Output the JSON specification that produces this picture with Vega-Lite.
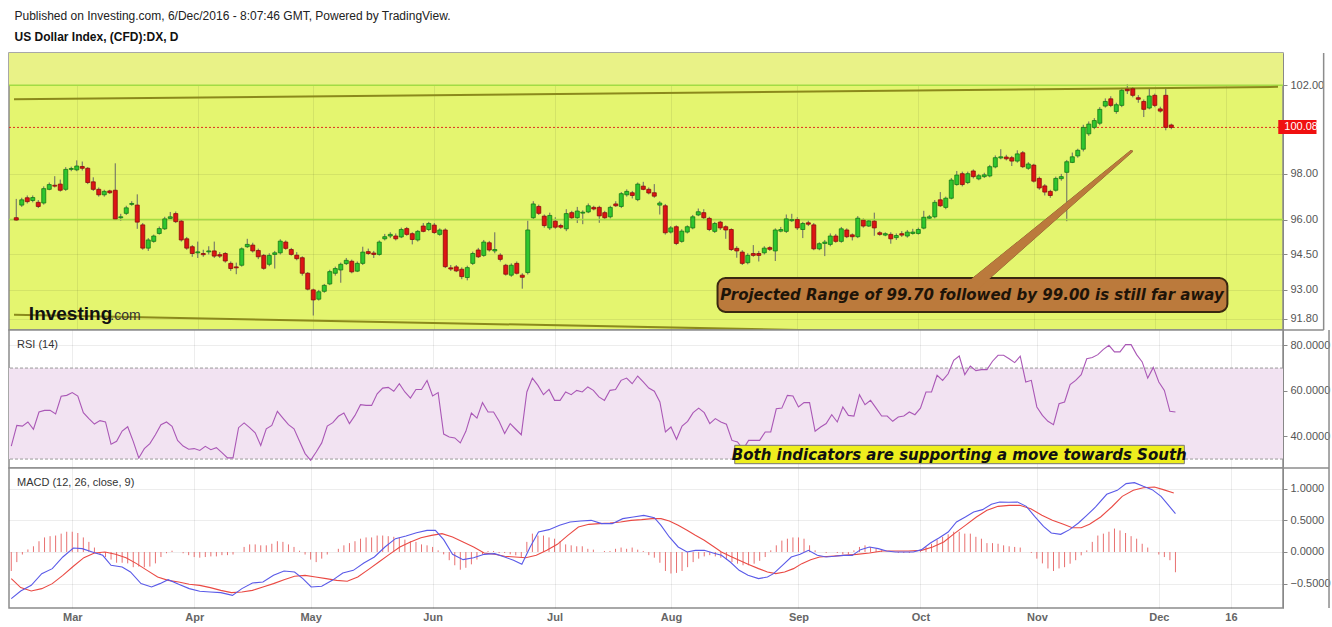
{
"$schema":"https://vega.github.io/schema/vega-lite/v6.json",
"padding":{"left":7,"top":9,"right":0,"bottom":5},
"background":"white",
"title":{"text":"Published on Investing.com, 6/Dec/2016 - 8:07:46 GMT, Powered by TradingView.","subtitle":"US Dollar Index, (CFD):DX, D","anchor":"start","dx":7,"font":"Liberation Sans","fontSize":12,"fontWeight":"normal","color":"#222","subtitleFont":"Liberation Sans","subtitleFontSize":12,"subtitleFontWeight":"bold","subtitleColor":"#111","subtitlePadding":9,"offset":8},
"spacing":0,
"bounds":"flush",
"config":{"font":"Liberation Sans","view":{"stroke":"#8c8c8c","strokeWidth":1.5},"axis":{"labelFont":"Liberation Sans","labelFontSize":11,"labelColor":"#555","tickColor":"#888","domainColor":"#888","tickSize":4,"labelPadding":3,"gridColor":"#000","gridOpacity":0.07,"title":null}},
"datasets":{
"candles":[
{"i":0,"o":96.08,"h":96.9,"l":95.95,"c":95.98},{"i":1,"o":96.63,"h":96.95,"l":96.55,"c":96.86},{"i":2,"o":96.95,"h":97.05,"l":96.7,"c":96.78},{"i":3,"o":96.83,"h":97.05,"l":96.75,"c":96.96},{"i":4,"o":96.75,"h":96.85,"l":96.5,"c":96.57},{"i":5,"o":96.72,"h":97.45,"l":96.65,"c":97.35},{"i":6,"o":97.32,"h":97.62,"l":97.28,"c":97.53},{"i":7,"o":97.5,"h":97.9,"l":97.4,"c":97.46},{"i":8,"o":97.55,"h":97.75,"l":97.22,"c":97.28},{"i":9,"o":97.32,"h":98.3,"l":97.25,"c":98.2},
{"i":10,"o":98.2,"h":98.32,"l":98.12,"c":98.24},{"i":11,"o":98.18,"h":98.6,"l":98.12,"c":98.35},{"i":12,"o":98.33,"h":98.55,"l":98.15,"c":98.25},{"i":13,"o":98.25,"h":98.3,"l":97.55,"c":97.62},{"i":14,"o":97.65,"h":97.85,"l":97.25,"c":97.32},{"i":15,"o":97.32,"h":97.4,"l":97.0,"c":97.08},{"i":16,"o":97.08,"h":97.3,"l":97.0,"c":97.23},{"i":17,"o":97.25,"h":97.3,"l":97.12,"c":97.17},{"i":18,"o":97.28,"h":98.47,"l":95.98,"c":96.03},{"i":19,"o":96.08,"h":96.25,"l":95.95,"c":96.12},
{"i":20,"o":96.27,"h":96.6,"l":96.2,"c":96.51},{"i":21,"o":96.66,"h":96.8,"l":96.6,"c":96.7},{"i":22,"o":96.63,"h":97.1,"l":95.6,"c":95.89},{"i":23,"o":95.77,"h":95.85,"l":94.7,"c":94.77},{"i":24,"o":94.77,"h":95.2,"l":94.65,"c":95.12},{"i":25,"o":95.06,"h":95.35,"l":95.0,"c":95.29},{"i":26,"o":95.4,"h":95.7,"l":95.35,"c":95.61},{"i":27,"o":95.6,"h":96.12,"l":95.55,"c":96.03},{"i":28,"o":96.05,"h":96.33,"l":96.0,"c":96.12},{"i":29,"o":96.26,"h":96.35,"l":95.85,"c":95.91},
{"i":30,"o":95.93,"h":96.0,"l":95.05,"c":95.12},{"i":31,"o":95.17,"h":95.25,"l":94.7,"c":94.77},{"i":32,"o":94.83,"h":94.9,"l":94.4,"c":94.54},{"i":33,"o":94.57,"h":95.05,"l":94.35,"c":94.61},{"i":34,"o":94.54,"h":94.7,"l":94.4,"c":94.49},{"i":35,"o":94.61,"h":94.85,"l":94.5,"c":94.65},{"i":36,"o":94.65,"h":95.05,"l":94.35,"c":94.43},{"i":37,"o":94.49,"h":94.6,"l":94.35,"c":94.43},{"i":38,"o":94.54,"h":94.6,"l":94.15,"c":94.22},{"i":39,"o":94.12,"h":94.2,"l":93.8,"c":93.9},
{"i":40,"o":93.97,"h":94.15,"l":93.66,"c":93.93},{"i":41,"o":94.04,"h":94.8,"l":93.98,"c":94.74},{"i":42,"o":94.83,"h":95.17,"l":94.78,"c":94.93},{"i":43,"o":94.9,"h":95.0,"l":94.58,"c":94.65},{"i":44,"o":94.67,"h":94.75,"l":94.3,"c":94.4},{"i":45,"o":94.46,"h":94.52,"l":93.85,"c":93.91},{"i":46,"o":94.08,"h":94.55,"l":94.0,"c":94.46},{"i":47,"o":94.5,"h":94.65,"l":93.9,"c":94.57},{"i":48,"o":94.57,"h":95.15,"l":94.5,"c":95.07},{"i":49,"o":95.03,"h":95.1,"l":94.7,"c":94.76},
{"i":50,"o":94.71,"h":94.78,"l":94.45,"c":94.5},{"i":51,"o":94.47,"h":94.6,"l":94.25,"c":94.32},{"i":52,"o":94.36,"h":94.42,"l":93.6,"c":93.7},{"i":53,"o":93.7,"h":93.75,"l":92.98,"c":93.03},{"i":54,"o":93.0,"h":93.05,"l":91.93,"c":92.58},{"i":55,"o":92.61,"h":93.0,"l":92.55,"c":92.92},{"i":56,"o":92.94,"h":93.25,"l":92.88,"c":93.19},{"i":57,"o":93.25,"h":93.85,"l":93.2,"c":93.77},{"i":58,"o":93.7,"h":93.98,"l":93.6,"c":93.9},{"i":59,"o":93.84,"h":94.15,"l":93.3,"c":94.08},
{"i":60,"o":94.11,"h":94.35,"l":94.05,"c":94.25},{"i":61,"o":94.21,"h":94.28,"l":93.7,"c":93.76},{"i":62,"o":93.79,"h":94.2,"l":93.75,"c":94.12},{"i":63,"o":94.12,"h":94.83,"l":94.05,"c":94.6},{"i":64,"o":94.62,"h":94.75,"l":94.48,"c":94.54},{"i":65,"o":94.56,"h":94.65,"l":94.35,"c":94.5},{"i":66,"o":94.5,"h":95.1,"l":94.45,"c":95.03},{"i":67,"o":95.17,"h":95.38,"l":95.1,"c":95.26},{"i":68,"o":95.29,"h":95.45,"l":95.2,"c":95.36},{"i":69,"o":95.29,"h":95.4,"l":95.1,"c":95.17},
{"i":70,"o":95.25,"h":95.65,"l":95.2,"c":95.57},{"i":71,"o":95.61,"h":95.68,"l":95.3,"c":95.36},{"i":72,"o":95.39,"h":95.45,"l":94.93,"c":95.14},{"i":73,"o":95.12,"h":95.55,"l":95.05,"c":95.49},{"i":74,"o":95.72,"h":95.85,"l":95.45,"c":95.49},{"i":75,"o":95.57,"h":95.9,"l":95.5,"c":95.83},{"i":76,"o":95.76,"h":95.85,"l":95.38,"c":95.44},{"i":77,"o":95.36,"h":95.62,"l":95.3,"c":95.55},{"i":78,"o":95.55,"h":95.62,"l":93.92,"c":93.98},{"i":79,"o":93.93,"h":94.05,"l":93.8,"c":93.88},
{"i":80,"o":93.97,"h":94.05,"l":93.75,"c":93.8},{"i":81,"o":93.87,"h":93.95,"l":93.45,"c":93.56},{"i":82,"o":93.52,"h":94.02,"l":93.4,"c":93.94},{"i":83,"o":94.12,"h":94.62,"l":94.05,"c":94.54},{"i":84,"o":94.69,"h":94.78,"l":94.35,"c":94.4},{"i":85,"o":94.46,"h":95.12,"l":94.4,"c":95.03},{"i":86,"o":95.0,"h":95.08,"l":94.62,"c":94.69},{"i":87,"o":94.65,"h":95.45,"l":94.55,"c":94.71},{"i":88,"o":94.47,"h":94.55,"l":94.2,"c":94.29},{"i":89,"o":94.04,"h":94.1,"l":93.6,"c":93.66},
{"i":90,"o":93.62,"h":94.12,"l":93.55,"c":94.04},{"i":91,"o":94.12,"h":94.2,"l":93.65,"c":93.7},{"i":92,"o":93.62,"h":93.7,"l":93.05,"c":93.53},{"i":93,"o":93.73,"h":95.95,"l":93.65,"c":95.55},{"i":94,"o":96.08,"h":96.8,"l":96.0,"c":96.68},{"i":95,"o":96.57,"h":96.65,"l":96.2,"c":96.27},{"i":96,"o":96.15,"h":96.22,"l":95.65,"c":95.74},{"i":97,"o":95.64,"h":96.3,"l":95.55,"c":96.18},{"i":98,"o":95.93,"h":96.1,"l":95.6,"c":95.67},{"i":99,"o":95.74,"h":95.82,"l":95.6,"c":95.67},
{"i":100,"o":95.6,"h":96.45,"l":95.5,"c":96.26},{"i":101,"o":96.3,"h":96.38,"l":96.02,"c":96.08},{"i":102,"o":96.08,"h":96.55,"l":95.85,"c":96.37},{"i":103,"o":96.28,"h":96.4,"l":95.8,"c":96.32},{"i":104,"o":96.33,"h":96.7,"l":96.28,"c":96.6},{"i":105,"o":96.53,"h":96.6,"l":96.4,"c":96.46},{"i":106,"o":96.53,"h":96.6,"l":95.86,"c":96.16},{"i":107,"o":96.3,"h":96.38,"l":96.0,"c":96.08},{"i":108,"o":96.12,"h":96.6,"l":96.05,"c":96.53},{"i":109,"o":96.68,"h":96.8,"l":96.55,"c":96.6},
{"i":110,"o":96.57,"h":97.2,"l":96.5,"c":97.13},{"i":111,"o":97.08,"h":97.32,"l":97.0,"c":97.23},{"i":112,"o":97.17,"h":97.25,"l":96.92,"c":97.05},{"i":113,"o":96.87,"h":97.62,"l":96.8,"c":97.55},{"i":114,"o":97.46,"h":97.65,"l":97.28,"c":97.32},{"i":115,"o":97.32,"h":97.4,"l":97.1,"c":97.16},{"i":116,"o":97.17,"h":97.55,"l":96.95,"c":97.02},{"i":117,"o":96.63,"h":96.8,"l":96.22,"c":96.72},{"i":118,"o":96.6,"h":96.68,"l":95.35,"c":95.43},{"i":119,"o":95.46,"h":95.72,"l":95.4,"c":95.64},
{"i":120,"o":95.69,"h":95.75,"l":94.9,"c":94.97},{"i":121,"o":95.06,"h":95.58,"l":95.0,"c":95.5},{"i":122,"o":95.46,"h":95.75,"l":95.4,"c":95.69},{"i":123,"o":95.64,"h":96.2,"l":95.58,"c":96.12},{"i":124,"o":96.2,"h":96.48,"l":96.15,"c":96.34},{"i":125,"o":96.3,"h":96.45,"l":96.0,"c":96.08},{"i":126,"o":96.05,"h":96.12,"l":95.5,"c":95.57},{"i":127,"o":95.49,"h":95.9,"l":95.42,"c":95.83},{"i":128,"o":95.89,"h":95.95,"l":95.55,"c":95.64},{"i":129,"o":95.69,"h":95.75,"l":95.17,"c":95.55},
{"i":130,"o":95.57,"h":95.62,"l":94.65,"c":94.71},{"i":131,"o":94.76,"h":94.85,"l":94.36,"c":94.65},{"i":132,"o":94.6,"h":94.68,"l":94.05,"c":94.12},{"i":133,"o":94.15,"h":94.55,"l":94.08,"c":94.46},{"i":134,"o":94.54,"h":94.9,"l":94.4,"c":94.46},{"i":135,"o":94.54,"h":94.65,"l":94.2,"c":94.46},{"i":136,"o":94.57,"h":94.85,"l":94.5,"c":94.77},{"i":137,"o":94.79,"h":94.85,"l":94.65,"c":94.72},{"i":138,"o":94.65,"h":95.62,"l":94.22,"c":95.55},{"i":139,"o":95.5,"h":95.68,"l":95.45,"c":95.57},
{"i":140,"o":95.49,"h":96.22,"l":95.42,"c":96.03},{"i":141,"o":95.95,"h":96.25,"l":95.9,"c":96.0},{"i":142,"o":96.0,"h":96.1,"l":95.55,"c":95.64},{"i":143,"o":95.57,"h":95.9,"l":95.2,"c":95.83},{"i":144,"o":95.86,"h":95.95,"l":95.72,"c":95.8},{"i":145,"o":95.77,"h":95.85,"l":94.68,"c":94.74},{"i":146,"o":94.74,"h":95.02,"l":94.68,"c":94.96},{"i":147,"o":94.97,"h":95.12,"l":94.43,"c":95.03},{"i":148,"o":94.93,"h":95.4,"l":94.85,"c":95.29},{"i":149,"o":95.29,"h":95.38,"l":95.0,"c":95.06},
{"i":150,"o":95.06,"h":95.68,"l":95.0,"c":95.6},{"i":151,"o":95.55,"h":95.62,"l":95.2,"c":95.26},{"i":152,"o":95.34,"h":95.4,"l":95.1,"c":95.26},{"i":153,"o":95.26,"h":96.15,"l":95.2,"c":96.06},{"i":154,"o":95.97,"h":96.05,"l":95.65,"c":95.72},{"i":155,"o":95.72,"h":96.0,"l":95.68,"c":95.94},{"i":156,"o":95.93,"h":96.3,"l":95.3,"c":95.64},{"i":157,"o":95.43,"h":95.5,"l":95.3,"c":95.36},{"i":158,"o":95.33,"h":95.45,"l":95.28,"c":95.39},{"i":159,"o":95.36,"h":95.45,"l":94.96,"c":95.17},
{"i":160,"o":95.22,"h":95.4,"l":95.12,"c":95.31},{"i":161,"o":95.39,"h":95.5,"l":95.25,"c":95.33},{"i":162,"o":95.29,"h":95.55,"l":95.22,"c":95.46},{"i":163,"o":95.4,"h":95.6,"l":95.35,"c":95.46},{"i":164,"o":95.4,"h":95.65,"l":95.35,"c":95.57},{"i":165,"o":95.63,"h":96.38,"l":95.58,"c":96.1},{"i":166,"o":96.06,"h":96.2,"l":96.0,"c":96.12},{"i":167,"o":96.12,"h":96.85,"l":96.05,"c":96.75},{"i":168,"o":96.86,"h":97.2,"l":96.55,"c":96.6},{"i":169,"o":96.53,"h":97.0,"l":96.45,"c":96.93},
{"i":170,"o":96.93,"h":97.82,"l":96.88,"c":97.73},{"i":171,"o":97.53,"h":98.13,"l":97.48,"c":97.95},{"i":172,"o":98.01,"h":98.1,"l":97.45,"c":97.53},{"i":173,"o":97.62,"h":98.1,"l":97.55,"c":98.01},{"i":174,"o":98.13,"h":98.2,"l":97.8,"c":97.88},{"i":175,"o":97.78,"h":98.0,"l":97.72,"c":97.92},{"i":176,"o":97.88,"h":98.05,"l":97.82,"c":97.96},{"i":177,"o":97.91,"h":98.4,"l":97.85,"c":98.32},{"i":178,"o":98.31,"h":98.82,"l":98.25,"c":98.72},{"i":179,"o":98.71,"h":99.1,"l":98.65,"c":98.76},
{"i":180,"o":98.75,"h":98.85,"l":98.6,"c":98.67},{"i":181,"o":98.72,"h":98.8,"l":98.35,"c":98.57},{"i":182,"o":98.57,"h":99.05,"l":98.5,"c":98.89},{"i":183,"o":98.94,"h":99.02,"l":98.26,"c":98.32},{"i":184,"o":98.25,"h":98.52,"l":98.18,"c":98.44},{"i":185,"o":98.39,"h":98.45,"l":97.62,"c":97.68},{"i":186,"o":97.8,"h":97.88,"l":97.3,"c":97.38},{"i":187,"o":97.47,"h":97.55,"l":97.05,"c":97.2},{"i":188,"o":97.23,"h":97.3,"l":96.95,"c":97.05},{"i":189,"o":97.28,"h":97.88,"l":97.22,"c":97.8},
{"i":190,"o":97.79,"h":98.0,"l":97.7,"c":97.88},{"i":191,"o":98.07,"h":98.62,"l":95.93,"c":98.54},{"i":192,"o":98.51,"h":98.95,"l":98.48,"c":98.76},{"i":193,"o":98.8,"h":99.12,"l":98.72,"c":99.05},{"i":194,"o":99.1,"h":100.2,"l":99.0,"c":100.08},{"i":195,"o":99.79,"h":100.35,"l":99.7,"c":100.23},{"i":196,"o":100.08,"h":100.5,"l":100.0,"c":100.39},{"i":197,"o":100.27,"h":101.0,"l":100.18,"c":100.9},{"i":198,"o":101.05,"h":101.4,"l":100.98,"c":101.26},{"i":199,"o":101.38,"h":101.5,"l":101.0,"c":101.08},
{"i":200,"o":100.8,"h":101.2,"l":100.7,"c":101.11},{"i":201,"o":101.08,"h":101.88,"l":101.0,"c":101.77},{"i":202,"o":101.82,"h":102.05,"l":101.6,"c":101.75},{"i":203,"o":101.84,"h":101.92,"l":101.45,"c":101.54},{"i":204,"o":101.43,"h":101.55,"l":101.2,"c":101.36},{"i":205,"o":101.26,"h":101.35,"l":100.55,"c":100.9},{"i":206,"o":100.96,"h":101.85,"l":100.9,"c":101.51},{"i":207,"o":101.54,"h":101.62,"l":101.0,"c":101.08},{"i":208,"o":100.92,"h":101.02,"l":100.75,"c":100.82},{"i":209,"o":101.54,"h":101.9,"l":99.95,"c":100.08},
{"i":210,"o":100.19,"h":100.25,"l":100.0,"c":100.08}
],
"rsi":[
{"i":0,"v":35.7},{"i":1,"v":44.8},{"i":2,"v":44.5},{"i":3,"v":46.3},{"i":4,"v":43.1},{"i":5,"v":50.7},{"i":6,"v":51.4},{"i":7,"v":51.4},{"i":8,"v":49.8},{"i":9,"v":57.6},{"i":10,"v":58.0},{"i":11,"v":59.2},{"i":12,"v":57.7},{"i":13,"v":50.4},{"i":14,"v":47.8},{"i":15,"v":45.4},{"i":16,"v":46.9},{"i":17,"v":46.3},{"i":18,"v":36.5},{"i":19,"v":37.8},{"i":20,"v":42.3},{"i":21,"v":44.2},{"i":22,"v":37.8},{"i":23,"v":30.5},{"i":24,"v":34.6},{"i":25,"v":36.8},{"i":26,"v":40.7},{"i":27,"v":45.1},{"i":28,"v":46.3},{"i":29,"v":44.4},
{"i":30,"v":38.2},{"i":31,"v":35.7},{"i":32,"v":34.3},{"i":33,"v":34.6},{"i":34,"v":33.8},{"i":35,"v":35.6},{"i":36,"v":34.1},{"i":37,"v":35.0},{"i":38,"v":32.8},{"i":39,"v":30.5},{"i":40,"v":30.5},{"i":41,"v":43.8},{"i":42,"v":45.9},{"i":43,"v":43.8},{"i":44,"v":41.5},{"i":45,"v":36.0},{"i":46,"v":43.3},{"i":47,"v":44.8},{"i":48,"v":51.0},{"i":49,"v":48.0},{"i":50,"v":45.1},{"i":51,"v":43.3},{"i":52,"v":37.8},{"i":53,"v":32.4},{"i":54,"v":29.4},{"i":55,"v":33.1},{"i":56,"v":37.1},{"i":57,"v":44.5},{"i":58,"v":46.0},{"i":59,"v":48.8},
{"i":60,"v":50.2},{"i":61,"v":45.6},{"i":62,"v":49.2},{"i":63,"v":53.9},{"i":64,"v":53.6},{"i":65,"v":53.6},{"i":66,"v":58.7},{"i":67,"v":61.2},{"i":68,"v":61.5},{"i":69,"v":59.8},{"i":70,"v":63.1},{"i":71,"v":59.5},{"i":72,"v":56.8},{"i":73,"v":60.6},{"i":74,"v":60.6},{"i":75,"v":64.5},{"i":76,"v":57.7},{"i":77,"v":59.2},{"i":78,"v":41.0},{"i":79,"v":39.7},{"i":80,"v":39.3},{"i":81,"v":37.1},{"i":82,"v":42.2},{"i":83,"v":50.2},{"i":84,"v":48.0},{"i":85,"v":54.8},{"i":86,"v":50.7},{"i":87,"v":50.7},{"i":88,"v":46.6},{"i":89,"v":41.2},
{"i":90,"v":45.6},{"i":91,"v":43.1},{"i":92,"v":40.7},{"i":93,"v":59.5},{"i":94,"v":65.6},{"i":95,"v":62.4},{"i":96,"v":58.3},{"i":97,"v":60.6},{"i":98,"v":55.8},{"i":99,"v":55.8},{"i":100,"v":59.5},{"i":101,"v":58.3},{"i":102,"v":60.2},{"i":103,"v":59.5},{"i":104,"v":61.7},{"i":105,"v":60.2},{"i":106,"v":57.3},{"i":107,"v":55.8},{"i":108,"v":60.2},{"i":109,"v":60.6},{"i":110,"v":64.6},{"i":111,"v":65.6},{"i":112,"v":63.1},{"i":113,"v":66.5},{"i":114,"v":63.9},{"i":115,"v":61.2},{"i":116,"v":59.8},{"i":117,"v":55.1},{"i":118,"v":41.9},{"i":119,"v":44.1},
{"i":120,"v":38.7},{"i":121,"v":44.5},{"i":122,"v":46.6},{"i":123,"v":50.4},{"i":124,"v":52.4},{"i":125,"v":50.4},{"i":126,"v":45.6},{"i":127,"v":47.8},{"i":128,"v":46.3},{"i":129,"v":45.3},{"i":130,"v":38.2},{"i":131,"v":37.5},{"i":132,"v":34.3},{"i":133,"v":38.2},{"i":134,"v":38.2},{"i":135,"v":38.2},{"i":136,"v":41.9},{"i":137,"v":41.9},{"i":138,"v":52.1},{"i":139,"v":52.4},{"i":140,"v":58.0},{"i":141,"v":57.7},{"i":142,"v":52.9},{"i":143,"v":54.8},{"i":144,"v":54.8},{"i":145,"v":42.2},{"i":146,"v":44.1},{"i":147,"v":45.6},{"i":148,"v":49.5},{"i":149,"v":46.3},
{"i":150,"v":52.9},{"i":151,"v":49.2},{"i":152,"v":48.9},{"i":153,"v":58.3},{"i":154,"v":53.9},{"i":155,"v":55.8},{"i":156,"v":52.4},{"i":157,"v":48.9},{"i":158,"v":48.9},{"i":159,"v":46.6},{"i":160,"v":48.5},{"i":161,"v":48.9},{"i":162,"v":50.7},{"i":163,"v":49.5},{"i":164,"v":52.4},{"i":165,"v":59.5},{"i":166,"v":59.5},{"i":167,"v":66.8},{"i":168,"v":64.6},{"i":169,"v":67.5},{"i":170,"v":73.4},{"i":171,"v":75.3},{"i":172,"v":67.1},{"i":173,"v":70.9},{"i":174,"v":68.9},{"i":175,"v":69.3},{"i":176,"v":69.3},{"i":177,"v":73.0},{"i":178,"v":75.6},{"i":179,"v":75.6},
{"i":180,"v":74.1},{"i":181,"v":72.4},{"i":182,"v":75.2},{"i":183,"v":63.9},{"i":184,"v":64.6},{"i":185,"v":52.9},{"i":186,"v":49.2},{"i":187,"v":46.6},{"i":188,"v":45.1},{"i":189,"v":54.3},{"i":190,"v":55.1},{"i":191,"v":62.7},{"i":192,"v":64.6},{"i":193,"v":67.1},{"i":194,"v":74.1},{"i":195,"v":74.6},{"i":196,"v":75.9},{"i":197,"v":78.2},{"i":198,"v":80.0},{"i":199,"v":77.1},{"i":200,"v":77.1},{"i":201,"v":80.3},{"i":202,"v":80.3},{"i":203,"v":75.9},{"i":204,"v":72.7},{"i":205,"v":65.6},{"i":206,"v":70.3},{"i":207,"v":63.9},{"i":208,"v":60.2},{"i":209,"v":51.0},{"i":210,"v":50.7}
],
"macd":[
{"i":0,"v":-0.737},{"i":1.7,"v":-0.616},{"i":3.6,"v":-0.527},{"i":5.5,"v":-0.342},{"i":7.4,"v":-0.263},{"i":9.3,"v":-0.079},{"i":11.2,"v":0.063},{"i":12.8,"v":0.053},{"i":14.6,"v":0.0},{"i":16.5,"v":-0.053},{"i":18,"v":-0.211},{"i":20,"v":-0.237},{"i":21.5,"v":-0.316},{"i":23.4,"v":-0.5},{"i":25.3,"v":-0.553},{"i":26.8,"v":-0.5},{"i":28.3,"v":-0.437},{"i":30.2,"v":-0.511},{"i":32.1,"v":-0.579},{"i":34,"v":-0.621},{"i":35.9,"v":-0.632},{"i":37.8,"v":-0.642},{"i":39.9,"v":-0.685},{"i":41.6,"v":-0.579},{"i":43.5,"v":-0.49},{"i":45.4,"v":-0.474},{"i":47.3,"v":-0.369},{"i":49.2,"v":-0.3},{"i":51.1,"v":-0.316},{"i":52.6,"v":-0.421},{"i":54.1,"v":-0.553},{"i":56,"v":-0.542},{"i":57.9,"v":-0.448},{"i":59.8,"v":-0.332},{"i":61.7,"v":-0.29},{"i":63.6,"v":-0.174},{"i":65.5,"v":-0.079},{"i":67.4,"v":0.079},{"i":69.3,"v":0.211},{"i":71.2,"v":0.253},{"i":73.1,"v":0.305},{"i":75,"v":0.342},{"i":76.5,"v":0.342},{"i":78,"v":0.195},{"i":79.6,"v":-0.037},{"i":81.5,"v":-0.121},{"i":83.4,"v":-0.09},{"i":85.3,"v":-0.037},{"i":87.2,"v":-0.026},{"i":89,"v":-0.079},{"i":90.6,"v":-0.132},{"i":92.1,"v":-0.195},{"i":93.6,"v":0.079},{"i":95.1,"v":0.316},{"i":97,"v":0.353},{"i":98.9,"v":0.421},{"i":100.8,"v":0.474},{"i":102.7,"v":0.49},{"i":104.6,"v":0.5},{"i":106.5,"v":0.448},{"i":108.4,"v":0.448},{"i":110.3,"v":0.527},{"i":112.2,"v":0.553},{"i":114.1,"v":0.579},{"i":116,"v":0.542},{"i":117.2,"v":0.421},{"i":118.7,"v":0.237},{"i":120.3,"v":0.079},{"i":121.9,"v":0.0},{"i":123.4,"v":0.026},{"i":125,"v":0.026},{"i":126.6,"v":-0.016},{"i":128.1,"v":-0.053},{"i":129.7,"v":-0.158},{"i":131.3,"v":-0.29},{"i":132.9,"v":-0.369},{"i":134.8,"v":-0.421},{"i":136.4,"v":-0.395},{"i":137.5,"v":-0.342},{"i":139.1,"v":-0.211},{"i":140.7,"v":-0.079},{"i":142.3,"v":-0.037},{"i":143.8,"v":0.026},{"i":145.4,"v":-0.053},{"i":147,"v":-0.079},{"i":148.5,"v":-0.068},{"i":150.1,"v":-0.053},{"i":151.7,"v":-0.053},{"i":153.2,"v":0.037},{"i":154.8,"v":0.079},{"i":156.4,"v":0.053},{"i":157.9,"v":0.016},{"i":159.5,"v":0.0},{"i":161.1,"v":0.0},{"i":162.7,"v":0.0},{"i":164.2,"v":0.037},{"i":165.8,"v":0.142},{"i":167.4,"v":0.226},{"i":169,"v":0.316},{"i":170.5,"v":0.474},{"i":172.1,"v":0.553},{"i":173.6,"v":0.632},{"i":175.2,"v":0.669},{"i":176.8,"v":0.753},{"i":178.3,"v":0.79},{"i":179.9,"v":0.785},{"i":181.5,"v":0.79},{"i":183.1,"v":0.721},{"i":184.6,"v":0.563},{"i":186.2,"v":0.405},{"i":187.6,"v":0.3},{"i":189.3,"v":0.279},{"i":190.9,"v":0.353},{"i":192.5,"v":0.458},{"i":194,"v":0.579},{"i":195.6,"v":0.711},{"i":197.6,"v":0.911},{"i":199.5,"v":0.974},{"i":201.1,"v":1.08},{"i":202.6,"v":1.095},{"i":204.2,"v":1.037},{"i":205.8,"v":0.985},{"i":207.4,"v":0.879},{"i":208.5,"v":0.764},{"i":210,"v":0.606}
],
"signal":[
{"i":0,"v":-0.421},{"i":1.7,"v":-0.563},{"i":3.6,"v":-0.616},{"i":5.5,"v":-0.579},{"i":7.4,"v":-0.5},{"i":9.3,"v":-0.369},{"i":11.2,"v":-0.226},{"i":13.1,"v":-0.09},{"i":15,"v":-0.016},{"i":16.9,"v":0.0},{"i":18.8,"v":-0.037},{"i":20.7,"v":-0.09},{"i":22.6,"v":-0.184},{"i":24.5,"v":-0.29},{"i":26.4,"v":-0.395},{"i":28.3,"v":-0.448},{"i":30.2,"v":-0.474},{"i":32.1,"v":-0.511},{"i":34,"v":-0.527},{"i":35.9,"v":-0.563},{"i":37.8,"v":-0.606},{"i":39.7,"v":-0.642},{"i":41.6,"v":-0.632},{"i":43.5,"v":-0.606},{"i":45.4,"v":-0.553},{"i":47.3,"v":-0.5},{"i":49.2,"v":-0.437},{"i":51.1,"v":-0.384},{"i":53,"v":-0.369},{"i":54.9,"v":-0.395},{"i":56.8,"v":-0.421},{"i":58.7,"v":-0.448},{"i":60.6,"v":-0.463},{"i":62.5,"v":-0.395},{"i":64.4,"v":-0.279},{"i":66.3,"v":-0.158},{"i":68.2,"v":-0.037},{"i":70.1,"v":0.079},{"i":72,"v":0.158},{"i":73.9,"v":0.226},{"i":75.8,"v":0.263},{"i":77.7,"v":0.29},{"i":79.6,"v":0.237},{"i":81.5,"v":0.158},{"i":83.4,"v":0.079},{"i":85.3,"v":-0.016},{"i":87.2,"v":-0.037},{"i":89,"v":-0.068},{"i":90.9,"v":-0.079},{"i":92.8,"v":-0.09},{"i":94.7,"v":-0.053},{"i":96.6,"v":0.026},{"i":98.5,"v":0.121},{"i":100.4,"v":0.263},{"i":102.3,"v":0.395},{"i":104.2,"v":0.437},{"i":106.1,"v":0.448},{"i":108,"v":0.458},{"i":109.9,"v":0.474},{"i":111.8,"v":0.5},{"i":113.7,"v":0.511},{"i":115.6,"v":0.527},{"i":117.2,"v":0.527},{"i":118.7,"v":0.49},{"i":120.3,"v":0.421},{"i":121.9,"v":0.342},{"i":123.4,"v":0.263},{"i":125,"v":0.184},{"i":126.6,"v":0.09},{"i":128.1,"v":0.0},{"i":129.7,"v":-0.068},{"i":131.3,"v":-0.132},{"i":132.9,"v":-0.195},{"i":134.8,"v":-0.263},{"i":136.4,"v":-0.316},{"i":137.9,"v":-0.342},{"i":139.5,"v":-0.316},{"i":141.1,"v":-0.263},{"i":142.6,"v":-0.184},{"i":144.2,"v":-0.121},{"i":145.8,"v":-0.079},{"i":147.8,"v":-0.068},{"i":150.1,"v":-0.053},{"i":152.5,"v":-0.037},{"i":154.8,"v":-0.016},{"i":157.1,"v":0.016},{"i":159.5,"v":0.016},{"i":161.8,"v":0.016},{"i":164.2,"v":0.026},{"i":166.2,"v":0.079},{"i":168.2,"v":0.158},{"i":170.1,"v":0.29},{"i":172.1,"v":0.421},{"i":174.1,"v":0.553},{"i":176,"v":0.658},{"i":178,"v":0.721},{"i":180,"v":0.737},{"i":181.9,"v":0.737},{"i":183.9,"v":0.684},{"i":185.9,"v":0.579},{"i":187.8,"v":0.5},{"i":189.8,"v":0.437},{"i":191.4,"v":0.384},{"i":193,"v":0.384},{"i":194.5,"v":0.437},{"i":196.5,"v":0.553},{"i":198.5,"v":0.711},{"i":200.4,"v":0.879},{"i":202.4,"v":0.974},{"i":204.2,"v":1.016},{"i":206.2,"v":1.027},{"i":207.8,"v":0.985},{"i":209.7,"v":0.932}
],
"hist":[
{"i":0,"v":-0.3},{"i":1,"v":-0.16},{"i":2,"v":-0.04},{"i":3,"v":0.04},{"i":4,"v":0.09},{"i":5,"v":0.17},{"i":6,"v":0.23},{"i":7,"v":0.25},{"i":8,"v":0.26},{"i":9,"v":0.29},{"i":10,"v":0.32},{"i":11,"v":0.32},{"i":12,"v":0.3},{"i":13,"v":0.23},{"i":14,"v":0.16},{"i":15,"v":0.07},{"i":16,"v":-0.04},{"i":17,"v":-0.08},{"i":18,"v":-0.12},{"i":19,"v":-0.17},{"i":20,"v":-0.17},{"i":21,"v":-0.18},{"i":22,"v":-0.24},{"i":23,"v":-0.23},{"i":24,"v":-0.24},{"i":25,"v":-0.23},{"i":26,"v":-0.18},{"i":27,"v":-0.08},{"i":28,"v":-0.02},{"i":29,"v":0.02},
{"i":30,"v":0.0},{"i":31,"v":-0.02},{"i":32,"v":-0.05},{"i":33,"v":-0.08},{"i":34,"v":-0.09},{"i":35,"v":-0.08},{"i":36,"v":-0.07},{"i":37,"v":-0.07},{"i":38,"v":-0.05},{"i":39,"v":-0.05},{"i":40,"v":-0.04},{"i":41,"v":0.0},{"i":42,"v":0.08},{"i":43,"v":0.12},{"i":44,"v":0.12},{"i":45,"v":0.105},{"i":46,"v":0.105},{"i":47,"v":0.13},{"i":48,"v":0.17},{"i":49,"v":0.16},{"i":50,"v":0.12},{"i":51,"v":0.08},{"i":52,"v":0.02},{"i":53,"v":-0.04},{"i":54,"v":-0.12},{"i":55,"v":-0.16},{"i":56,"v":-0.105},{"i":57,"v":-0.04},{"i":58,"v":0.0},{"i":59,"v":0.05},
{"i":60,"v":0.105},{"i":61,"v":0.14},{"i":62,"v":0.17},{"i":63,"v":0.21},{"i":64,"v":0.23},{"i":65,"v":0.23},{"i":66,"v":0.26},{"i":67,"v":0.26},{"i":68,"v":0.25},{"i":69,"v":0.24},{"i":70,"v":0.23},{"i":71,"v":0.195},{"i":72,"v":0.17},{"i":73,"v":0.16},{"i":74,"v":0.12},{"i":75,"v":0.105},{"i":76,"v":0.08},{"i":77,"v":0.026},{"i":78,"v":-0.037},{"i":79,"v":-0.13},{"i":80,"v":-0.21},{"i":81,"v":-0.28},{"i":82,"v":-0.25},{"i":83,"v":-0.195},{"i":84,"v":-0.12},{"i":85,"v":-0.04},{"i":86,"v":0.016},{"i":87,"v":0.016},{"i":88,"v":-0.016},{"i":89,"v":-0.016},
{"i":90,"v":-0.037},{"i":91,"v":-0.053},{"i":92,"v":-0.08},{"i":93,"v":0.16},{"i":94,"v":0.29},{"i":95,"v":0.26},{"i":96,"v":0.26},{"i":97,"v":0.23},{"i":98,"v":0.21},{"i":99,"v":0.17},{"i":100,"v":0.12},{"i":101,"v":0.105},{"i":102,"v":0.09},{"i":103,"v":0.09},{"i":104,"v":0.05},{"i":105,"v":0.037},{"i":106,"v":0.0},{"i":107,"v":0.016},{"i":108,"v":0.016},{"i":109,"v":0.05},{"i":110,"v":0.07},{"i":111,"v":0.05},{"i":112,"v":0.07},{"i":113,"v":0.037},{"i":114,"v":0.016},{"i":115,"v":-0.05},{"i":116,"v":-0.09},{"i":117,"v":-0.17},{"i":118,"v":-0.3},{"i":119,"v":-0.34},
{"i":120,"v":-0.33},{"i":121,"v":-0.3},{"i":122,"v":-0.24},{"i":123,"v":-0.16},{"i":124,"v":-0.105},{"i":125,"v":-0.07},{"i":126,"v":-0.05},{"i":127,"v":-0.07},{"i":128,"v":-0.09},{"i":129,"v":-0.12},{"i":130,"v":-0.16},{"i":131,"v":-0.185},{"i":132,"v":-0.21},{"i":133,"v":-0.21},{"i":134,"v":-0.185},{"i":135,"v":-0.14},{"i":136,"v":-0.08},{"i":137,"v":0.026},{"i":138,"v":0.105},{"i":139,"v":0.18},{"i":140,"v":0.21},{"i":141,"v":0.23},{"i":142,"v":0.23},{"i":143,"v":0.21},{"i":144,"v":0.105},{"i":145,"v":0.026},{"i":146,"v":0.0},{"i":147,"v":-0.016},{"i":148,"v":0.0},{"i":149,"v":-0.016},
{"i":150,"v":-0.037},{"i":151,"v":-0.037},{"i":152,"v":0.026},{"i":153,"v":0.08},{"i":154,"v":0.105},{"i":155,"v":0.08},{"i":156,"v":0.053},{"i":157,"v":0.026},{"i":158,"v":0.0},{"i":159,"v":0.0},{"i":160,"v":-0.016},{"i":161,"v":-0.016},{"i":162,"v":-0.016},{"i":163,"v":0.0},{"i":164,"v":0.026},{"i":165,"v":0.08},{"i":166,"v":0.13},{"i":167,"v":0.195},{"i":168,"v":0.24},{"i":169,"v":0.28},{"i":170,"v":0.32},{"i":171,"v":0.32},{"i":172,"v":0.29},{"i":173,"v":0.29},{"i":174,"v":0.24},{"i":175,"v":0.21},{"i":176,"v":0.14},{"i":177,"v":0.14},{"i":178,"v":0.13},{"i":179,"v":0.105},
{"i":180,"v":0.09},{"i":181,"v":0.08},{"i":182,"v":0.07},{"i":183,"v":0.0},{"i":184,"v":-0.016},{"i":185,"v":-0.105},{"i":186,"v":-0.18},{"i":187,"v":-0.26},{"i":188,"v":-0.3},{"i":189,"v":-0.26},{"i":190,"v":-0.24},{"i":191,"v":-0.185},{"i":192,"v":-0.13},{"i":193,"v":-0.053},{"i":194,"v":0.026},{"i":195,"v":0.16},{"i":196,"v":0.26},{"i":197,"v":0.29},{"i":198,"v":0.32},{"i":199,"v":0.37},{"i":200,"v":0.34},{"i":201,"v":0.3},{"i":202,"v":0.25},{"i":203,"v":0.21},{"i":204,"v":0.13},{"i":205,"v":0.07},{"i":206,"v":0.0},{"i":207,"v":-0.04},{"i":208,"v":-0.08},{"i":209,"v":-0.13},{"i":210,"v":-0.32}
],
"trend":[{"id":"a","i":-0.41,"p":101.36},{"id":"a","i":229.4,"p":101.93},{"id":"b","i":-0.41,"p":91.96},{"id":"b","i":190.0,"p":91.12}],
"wedge":[{"i":174.0,"p":93.2,"part":"base"},{"i":202.75,"p":99.01,"part":"tip"}]
},
"vconcat":[
{"width":1274,"height":277,"view":{"fill":"#e4f56f"},
"layer":[
{"data":{"values":[{"lo":102,"hi":103.5}]},"mark":{"type":"rect","color":"#e9f287"},"encoding":{"y":{"field":"lo","type":"quantitative","scale":{"type":"log","domain":[91.33,103.5],"nice":false,"zero":false},"axis":{"orient":"right","values":[91.8,93,94.5,96,98,102],"format":".2f"}},"y2":{"field":"hi"}}},
{"data":{"name":"candles"},"mark":{"type":"rule","color":"#666","strokeWidth":1},"encoding":{"x":{"field":"i","type":"quantitative","scale":{"domain":[-0.41,229.4],"nice":false,"zero":false},"axis":{"values":[11,33,54,76,98,119,142,164,185,207,220],"labels":false,"ticks":false,"domain":false,"grid":true}},"y":{"field":"l","type":"quantitative","scale":{"type":"log","domain":[91.33,103.5],"nice":false,"zero":false},"axis":{"orient":"right","values":[91.8,93,94.5,96,98,102],"format":".2f"}},"y2":{"field":"h"}}},
{"data":{"values":[{"p":102},{"p":96}]},"mark":{"type":"rule","color":"#a2dc44","strokeWidth":1.5},"encoding":{"y":{"field":"p","type":"quantitative","scale":{"type":"log","domain":[91.33,103.5],"nice":false,"zero":false},"axis":{"orient":"right","values":[91.8,93,94.5,96,98,102],"format":".2f"}}}},
{"data":{"values":[{"p":100.08}]},"mark":{"type":"rule","color":"#e0301e","strokeWidth":1,"strokeDash":[2,2]},"encoding":{"y":{"field":"p","type":"quantitative","scale":{"type":"log","domain":[91.33,103.5],"nice":false,"zero":false},"axis":{"orient":"right","values":[91.8,93,94.5,96,98,102],"format":".2f"}}}},
{"data":{"name":"trend"},"mark":{"type":"line","color":"#8b891c","strokeWidth":2,"clip":true},"encoding":{"x":{"field":"i","type":"quantitative","scale":{"domain":[-0.41,229.4],"nice":false,"zero":false},"axis":{"values":[11,33,54,76,98,119,142,164,185,207,220],"labels":false,"ticks":false,"domain":false,"grid":true}},"y":{"field":"p","type":"quantitative","scale":{"type":"log","domain":[91.33,103.5],"nice":false,"zero":false},"axis":{"orient":"right","values":[91.8,93,94.5,96,98,102],"format":".2f"}},"detail":{"field":"id"}}},
{"data":{"name":"candles"},"mark":{"type":"bar","width":4,"strokeWidth":0.8},"encoding":{"x":{"field":"i","type":"quantitative","scale":{"domain":[-0.41,229.4],"nice":false,"zero":false},"axis":{"values":[11,33,54,76,98,119,142,164,185,207,220],"labels":false,"ticks":false,"domain":false,"grid":true}},"y":{"field":"o","type":"quantitative","scale":{"type":"log","domain":[91.33,103.5],"nice":false,"zero":false},"axis":{"orient":"right","values":[91.8,93,94.5,96,98,102],"format":".2f"}},"y2":{"field":"c"},"fill":{"condition":{"test":"datum.c >= datum.o","value":"#2fc62f"},"value":"#dd1414"},"stroke":{"condition":{"test":"datum.c >= datum.o","value":"#137a13"},"value":"#8a0a0a"}}},
{"data":{"name":"wedge"},"mark":{"type":"trail","color":"#3a2810"},"encoding":{"x":{"field":"i","type":"quantitative","scale":{"domain":[-0.41,229.4],"nice":false,"zero":false},"axis":{"values":[11,33,54,76,98,119,142,164,185,207,220],"labels":false,"ticks":false,"domain":false,"grid":true}},"y":{"field":"p","type":"quantitative","scale":{"type":"log","domain":[91.33,103.5],"nice":false,"zero":false},"axis":{"orient":"right","values":[91.8,93,94.5,96,98,102],"format":".2f"}},"size":{"field":"part","type":"ordinal","scale":{"domain":["tip","base"],"range":[2.5,12]},"legend":null}}},
{"data":{"values":[{"x1":127.5,"x2":220.2,"p1":92.08,"p2":93.5}]},"mark":{"type":"rect","fill":"#bb7a3c","stroke":"#3a2810","strokeWidth":2,"cornerRadius":8},"encoding":{"x":{"field":"x1","type":"quantitative","scale":{"domain":[-0.41,229.4],"nice":false,"zero":false},"axis":{"values":[11,33,54,76,98,119,142,164,185,207,220],"labels":false,"ticks":false,"domain":false,"grid":true}},"x2":{"field":"x2"},"y":{"field":"p1","type":"quantitative","scale":{"type":"log","domain":[91.33,103.5],"nice":false,"zero":false},"axis":{"orient":"right","values":[91.8,93,94.5,96,98,102],"format":".2f"}},"y2":{"field":"p2"}}},
{"data":{"name":"wedge"},"mark":{"type":"trail","color":"#bb7a3c"},"encoding":{"x":{"field":"i","type":"quantitative","scale":{"domain":[-0.41,229.4],"nice":false,"zero":false},"axis":{"values":[11,33,54,76,98,119,142,164,185,207,220],"labels":false,"ticks":false,"domain":false,"grid":true}},"y":{"field":"p","type":"quantitative","scale":{"type":"log","domain":[91.33,103.5],"nice":false,"zero":false},"axis":{"orient":"right","values":[91.8,93,94.5,96,98,102],"format":".2f"}},"size":{"field":"part","type":"ordinal","scale":{"domain":["tip","base"],"range":[0.5,8]},"legend":null}}},
{"data":{"values":[{"i":173.76,"p":92.79,"t":"Projected Range of 99.70 followed by 99.00 is still far away"}]},"mark":{"type":"text","font":"DejaVu Sans","fontSize":15,"fontWeight":"bold","fontStyle":"italic","color":"#1e1408","align":"center","baseline":"middle"},"encoding":{"x":{"field":"i","type":"quantitative","scale":{"domain":[-0.41,229.4],"nice":false,"zero":false},"axis":{"values":[11,33,54,76,98,119,142,164,185,207,220],"labels":false,"ticks":false,"domain":false,"grid":true}},"y":{"field":"p","type":"quantitative","scale":{"type":"log","domain":[91.33,103.5],"nice":false,"zero":false},"axis":{"orient":"right","values":[91.8,93,94.5,96,98,102],"format":".2f"}},"text":{"field":"t"}}},
{"data":{"values":[{"i":2.29,"p":91.74,"t":"Investing"}]},"mark":{"type":"text","font":"Liberation Sans","fontSize":19,"fontWeight":"bold","color":"#111","align":"left","baseline":"alphabetic"},"encoding":{"x":{"field":"i","type":"quantitative","scale":{"domain":[-0.41,229.4],"nice":false,"zero":false},"axis":{"values":[11,33,54,76,98,119,142,164,185,207,220],"labels":false,"ticks":false,"domain":false,"grid":true}},"y":{"field":"p","type":"quantitative","scale":{"type":"log","domain":[91.33,103.5],"nice":false,"zero":false},"axis":{"orient":"right","values":[91.8,93,94.5,96,98,102],"format":".2f"}},"text":{"field":"t"}}},
{"data":{"values":[{"i":17.1,"p":91.74,"t":".com"}]},"mark":{"type":"text","font":"Liberation Sans","fontSize":14,"color":"#333","align":"left","baseline":"alphabetic"},"encoding":{"x":{"field":"i","type":"quantitative","scale":{"domain":[-0.41,229.4],"nice":false,"zero":false},"axis":{"values":[11,33,54,76,98,119,142,164,185,207,220],"labels":false,"ticks":false,"domain":false,"grid":true}},"y":{"field":"p","type":"quantitative","scale":{"type":"log","domain":[91.33,103.5],"nice":false,"zero":false},"axis":{"orient":"right","values":[91.8,93,94.5,96,98,102],"format":".2f"}},"text":{"field":"t"}}},
{"data":{"values":[{"x1":229.45,"x2":236.4,"p1":99.78,"p2":100.41}]},"mark":{"type":"rect","fill":"#f01010"},"encoding":{"x":{"field":"x1","type":"quantitative","scale":{"domain":[-0.41,229.4],"nice":false,"zero":false},"axis":{"values":[11,33,54,76,98,119,142,164,185,207,220],"labels":false,"ticks":false,"domain":false,"grid":true}},"x2":{"field":"x2"},"y":{"field":"p1","type":"quantitative","scale":{"type":"log","domain":[91.33,103.5],"nice":false,"zero":false},"axis":{"orient":"right","values":[91.8,93,94.5,96,98,102],"format":".2f"}},"y2":{"field":"p2"}}},
{"data":{"values":[{"i":230.55,"p":100.08,"t":"100.08"}]},"mark":{"type":"text","font":"Liberation Sans","fontSize":11,"color":"white","align":"left","baseline":"middle"},"encoding":{"x":{"field":"i","type":"quantitative","scale":{"domain":[-0.41,229.4],"nice":false,"zero":false},"axis":{"values":[11,33,54,76,98,119,142,164,185,207,220],"labels":false,"ticks":false,"domain":false,"grid":true}},"y":{"field":"p","type":"quantitative","scale":{"type":"log","domain":[91.33,103.5],"nice":false,"zero":false},"axis":{"orient":"right","values":[91.8,93,94.5,96,98,102],"format":".2f"}},"text":{"field":"t"}}},
{"data":{"values":[{"x1":229.4,"x2":237.7,"p":91.33}]},"mark":{"type":"rule","color":"#8c8c8c","strokeWidth":1.5},"encoding":{"x":{"field":"x1","type":"quantitative","scale":{"domain":[-0.41,229.4],"nice":false,"zero":false},"axis":{"values":[11,33,54,76,98,119,142,164,185,207,220],"labels":false,"ticks":false,"domain":false,"grid":true}},"x2":{"field":"x2"},"y":{"field":"p","type":"quantitative","scale":{"type":"log","domain":[91.33,103.5],"nice":false,"zero":false},"axis":{"orient":"right","values":[91.8,93,94.5,96,98,102],"format":".2f"}}}},
{"data":{"values":[{"x":237.7,"p1":91.33,"p2":103.5}]},"mark":{"type":"rule","color":"#8c8c8c","strokeWidth":1.5},"encoding":{"x":{"field":"x","type":"quantitative","scale":{"domain":[-0.41,229.4],"nice":false,"zero":false},"axis":{"values":[11,33,54,76,98,119,142,164,185,207,220],"labels":false,"ticks":false,"domain":false,"grid":true}},"y":{"field":"p1","type":"quantitative","scale":{"type":"log","domain":[91.33,103.5],"nice":false,"zero":false},"axis":{"orient":"right","values":[91.8,93,94.5,96,98,102],"format":".2f"}},"y2":{"field":"p2"}}}
]},
{"width":1274,"height":138,"view":{"fill":"white"},
"layer":[
{"data":{"values":[{"lo":30,"hi":70}]},"mark":{"type":"rect","color":"#f2e3f2"},"encoding":{"y":{"field":"lo","type":"quantitative","scale":{"domain":[26.07,86.73],"nice":false,"zero":false},"axis":{"orient":"right","values":[40,60,80],"format":".4f"}},"y2":{"field":"hi"}}},
{"data":{"values":[{"v":30},{"v":70}]},"mark":{"type":"rule","color":"#999","strokeWidth":1,"strokeDash":[3,2]},"encoding":{"y":{"field":"v","type":"quantitative","scale":{"domain":[26.07,86.73],"nice":false,"zero":false},"axis":{"orient":"right","values":[40,60,80],"format":".4f"}}}},
{"data":{"name":"rsi"},"mark":{"type":"line","color":"#aa58b6","strokeWidth":1.1},"encoding":{"x":{"field":"i","type":"quantitative","scale":{"domain":[-0.41,229.4],"nice":false,"zero":false},"axis":{"values":[11,33,54,76,98,119,142,164,185,207,220],"labels":false,"ticks":false,"domain":false,"grid":true}},"y":{"field":"v","type":"quantitative","scale":{"domain":[26.07,86.73],"nice":false,"zero":false},"axis":{"orient":"right","values":[40,60,80],"format":".4f"}}}},
{"data":{"values":[{"i":1.03,"v":80,"t":"RSI (14)"}]},"mark":{"type":"text","font":"Liberation Sans","fontSize":11,"color":"#333","align":"left","baseline":"middle"},"encoding":{"x":{"field":"i","type":"quantitative","scale":{"domain":[-0.41,229.4],"nice":false,"zero":false},"axis":{"values":[11,33,54,76,98,119,142,164,185,207,220],"labels":false,"ticks":false,"domain":false,"grid":true}},"y":{"field":"v","type":"quantitative","scale":{"domain":[26.07,86.73],"nice":false,"zero":false},"axis":{"orient":"right","values":[40,60,80],"format":".4f"}},"text":{"field":"t"}}},
{"data":{"values":[{"x1":130.5,"x2":211.6,"v1":27.96,"v2":36.04}]},"mark":{"type":"rect","fill":"#eeee1e","stroke":"#777","strokeWidth":1},"encoding":{"x":{"field":"x1","type":"quantitative","scale":{"domain":[-0.41,229.4],"nice":false,"zero":false},"axis":{"values":[11,33,54,76,98,119,142,164,185,207,220],"labels":false,"ticks":false,"domain":false,"grid":true}},"x2":{"field":"x2"},"y":{"field":"v1","type":"quantitative","scale":{"domain":[26.07,86.73],"nice":false,"zero":false},"axis":{"orient":"right","values":[40,60,80],"format":".4f"}},"y2":{"field":"v2"}}},
{"data":{"values":[{"i":171.0,"v":32.0,"t":"Both indicators are supporting a move towards South"}]},"mark":{"type":"text","font":"DejaVu Sans","fontSize":15,"fontWeight":"bold","fontStyle":"italic","color":"#111","align":"center","baseline":"middle"},"encoding":{"x":{"field":"i","type":"quantitative","scale":{"domain":[-0.41,229.4],"nice":false,"zero":false},"axis":{"values":[11,33,54,76,98,119,142,164,185,207,220],"labels":false,"ticks":false,"domain":false,"grid":true}},"y":{"field":"v","type":"quantitative","scale":{"domain":[26.07,86.73],"nice":false,"zero":false},"axis":{"orient":"right","values":[40,60,80],"format":".4f"}},"text":{"field":"t"}}},
{"data":{"values":[{"x1":229.4,"x2":237.7,"v":26.07}]},"mark":{"type":"rule","color":"#8c8c8c","strokeWidth":1.5},"encoding":{"x":{"field":"x1","type":"quantitative","scale":{"domain":[-0.41,229.4],"nice":false,"zero":false},"axis":{"values":[11,33,54,76,98,119,142,164,185,207,220],"labels":false,"ticks":false,"domain":false,"grid":true}},"x2":{"field":"x2"},"y":{"field":"v","type":"quantitative","scale":{"domain":[26.07,86.73],"nice":false,"zero":false},"axis":{"orient":"right","values":[40,60,80],"format":".4f"}}}},
{"data":{"values":[{"x":237.7,"v1":26.07,"v2":86.73}]},"mark":{"type":"rule","color":"#8c8c8c","strokeWidth":1.5},"encoding":{"x":{"field":"x","type":"quantitative","scale":{"domain":[-0.41,229.4],"nice":false,"zero":false},"axis":{"values":[11,33,54,76,98,119,142,164,185,207,220],"labels":false,"ticks":false,"domain":false,"grid":true}},"y":{"field":"v1","type":"quantitative","scale":{"domain":[26.07,86.73],"nice":false,"zero":false},"axis":{"orient":"right","values":[40,60,80],"format":".4f"}},"y2":{"field":"v2"}}}
]},
{"width":1274,"height":140,"view":{"fill":"white"},
"layer":[
{"data":{"name":"hist"},"mark":{"type":"rule","color":"#e87070","strokeWidth":1},"encoding":{"x":{"field":"i","type":"quantitative","scale":{"domain":[-0.41,229.4],"nice":false,"zero":false},"axis":{"values":[11,33,54,76,98,119,142,164,185,207,220],"labelExpr":"datum.value==11?'Mar':datum.value==33?'Apr':datum.value==54?'May':datum.value==76?'Jun':datum.value==98?'Jul':datum.value==119?'Aug':datum.value==142?'Sep':datum.value==164?'Oct':datum.value==185?'Nov':datum.value==207?'Dec':'16'","labelFontWeight":"bold","labelColor":"#666","labelFontSize":11,"ticks":false,"domain":false,"grid":true,"labelPadding":3}},"y":{"field":"v","type":"quantitative","scale":{"domain":[-0.885,1.327],"nice":false,"zero":false},"axis":{"orient":"right","values":[-0.5,0,0.5,1],"format":".4f"}},"y2":{"datum":0}}},
{"data":{"name":"signal"},"mark":{"type":"line","color":"#ea4a44","strokeWidth":1.1},"encoding":{"x":{"field":"i","type":"quantitative","scale":{"domain":[-0.41,229.4],"nice":false,"zero":false},"axis":{"values":[11,33,54,76,98,119,142,164,185,207,220],"labelExpr":"datum.value==11?'Mar':datum.value==33?'Apr':datum.value==54?'May':datum.value==76?'Jun':datum.value==98?'Jul':datum.value==119?'Aug':datum.value==142?'Sep':datum.value==164?'Oct':datum.value==185?'Nov':datum.value==207?'Dec':'16'","labelFontWeight":"bold","labelColor":"#666","labelFontSize":11,"ticks":false,"domain":false,"grid":true,"labelPadding":3}},"y":{"field":"v","type":"quantitative","scale":{"domain":[-0.885,1.327],"nice":false,"zero":false},"axis":{"orient":"right","values":[-0.5,0,0.5,1],"format":".4f"}}}},
{"data":{"name":"macd"},"mark":{"type":"line","color":"#5a5ae8","strokeWidth":1.1},"encoding":{"x":{"field":"i","type":"quantitative","scale":{"domain":[-0.41,229.4],"nice":false,"zero":false},"axis":{"values":[11,33,54,76,98,119,142,164,185,207,220],"labelExpr":"datum.value==11?'Mar':datum.value==33?'Apr':datum.value==54?'May':datum.value==76?'Jun':datum.value==98?'Jul':datum.value==119?'Aug':datum.value==142?'Sep':datum.value==164?'Oct':datum.value==185?'Nov':datum.value==207?'Dec':'16'","labelFontWeight":"bold","labelColor":"#666","labelFontSize":11,"ticks":false,"domain":false,"grid":true,"labelPadding":3}},"y":{"field":"v","type":"quantitative","scale":{"domain":[-0.885,1.327],"nice":false,"zero":false},"axis":{"orient":"right","values":[-0.5,0,0.5,1],"format":".4f"}}}},
{"data":{"values":[{"i":1.03,"v":1.09,"t":"MACD (12, 26, close, 9)"}]},"mark":{"type":"text","font":"Liberation Sans","fontSize":11,"color":"#333","align":"left","baseline":"middle"},"encoding":{"x":{"field":"i","type":"quantitative","scale":{"domain":[-0.41,229.4],"nice":false,"zero":false},"axis":{"values":[11,33,54,76,98,119,142,164,185,207,220],"labelExpr":"datum.value==11?'Mar':datum.value==33?'Apr':datum.value==54?'May':datum.value==76?'Jun':datum.value==98?'Jul':datum.value==119?'Aug':datum.value==142?'Sep':datum.value==164?'Oct':datum.value==185?'Nov':datum.value==207?'Dec':'16'","labelFontWeight":"bold","labelColor":"#666","labelFontSize":11,"ticks":false,"domain":false,"grid":true,"labelPadding":3}},"y":{"field":"v","type":"quantitative","scale":{"domain":[-0.885,1.327],"nice":false,"zero":false},"axis":{"orient":"right","values":[-0.5,0,0.5,1],"format":".4f"}},"text":{"field":"t"}}},
{"data":{"values":[{"x":237.7,"v1":-0.885,"v2":1.327}]},"mark":{"type":"rule","color":"#8c8c8c","strokeWidth":1.5},"encoding":{"x":{"field":"x","type":"quantitative","scale":{"domain":[-0.41,229.4],"nice":false,"zero":false},"axis":{"values":[11,33,54,76,98,119,142,164,185,207,220],"labelExpr":"datum.value==11?'Mar':datum.value==33?'Apr':datum.value==54?'May':datum.value==76?'Jun':datum.value==98?'Jul':datum.value==119?'Aug':datum.value==142?'Sep':datum.value==164?'Oct':datum.value==185?'Nov':datum.value==207?'Dec':'16'","labelFontWeight":"bold","labelColor":"#666","labelFontSize":11,"ticks":false,"domain":false,"grid":true,"labelPadding":3}},"y":{"field":"v1","type":"quantitative","scale":{"domain":[-0.885,1.327],"nice":false,"zero":false},"axis":{"orient":"right","values":[-0.5,0,0.5,1],"format":".4f"}},"y2":{"field":"v2"}}}
]}
]
}
